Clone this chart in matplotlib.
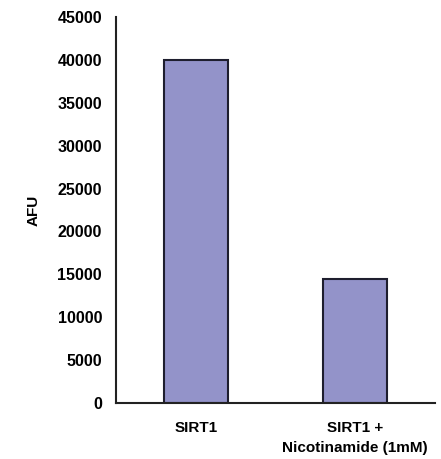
import matplotlib
matplotlib.use("Agg")
import matplotlib.pyplot as plt

categories = ["SIRT1", "SIRT1 +\nNicotinamide (1mM)"]
afu = [40000, 14400]
yticks = [0, 5000, 10000, 15000, 20000, 25000, 30000, 35000, 40000, 45000]

plt.rcParams['font.family'] = ['Liberation Sans', 'DejaVu Sans']

fig = plt.figure(figsize=(4.41, 4.59), dpi=100)
ax = fig.add_axes([0.263, 0.122, 0.723, 0.841])

x = range(len(categories))
ax.bar(x, afu, width=0.4, color="#9393c9", edgecolor="#1e1e2e", linewidth=1.5)

ax.set_xlim(-0.5, 1.5)
ax.set_ylim(0, 45000)
ax.set_yticks(yticks)
ax.set_yticklabels([str(v) for v in yticks], fontsize=11.5, fontweight="bold")
ax.set_xticks(list(x))
ax.set_xticklabels(categories, fontsize=11, fontweight="bold", linespacing=1.5)
ax.tick_params(axis="y", length=0, pad=10)
ax.tick_params(axis="x", length=0, pad=13)
ax.set_ylabel("AFU", fontsize=11, fontweight="bold", labelpad=12)

for s in ["top", "right"]:
    ax.spines[s].set_visible(False)
for s in ["left", "bottom"]:
    ax.spines[s].set_linewidth(1.5)
    ax.spines[s].set_color("#222222")

fig.savefig("out.png", dpi=100)
